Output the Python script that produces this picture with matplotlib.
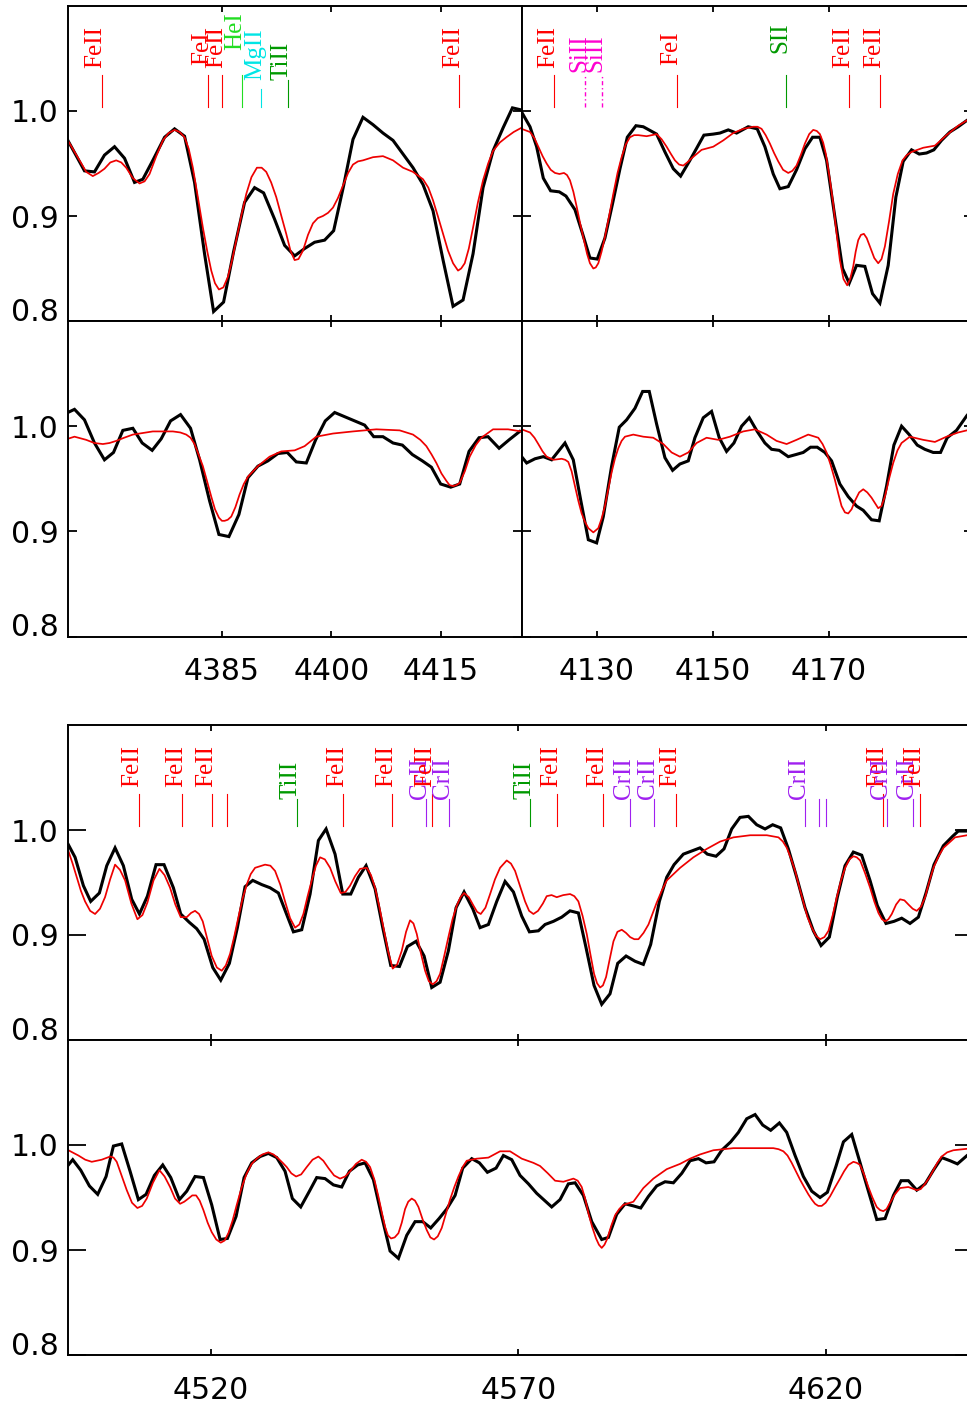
import numpy as np
import matplotlib
matplotlib.use("Agg")
import matplotlib.pyplot as plt

# spectra as (wavelength, normalised flux) pairs; obs = black, fit = red
tl_obs = [(4363.88, 0.972), (4366.16, 0.943), (4367.53, 0.942), (4368.90, 0.958), (4370.28, 0.966),
          (4371.65, 0.955), (4373.02, 0.932), (4374.16, 0.935), (4375.53, 0.953), (4377.14, 0.975),
          (4378.51, 0.983), (4379.88, 0.976), (4381.25, 0.932), (4382.62, 0.864), (4383.86, 0.809),
          (4385.23, 0.818), (4386.60, 0.866), (4388.11, 0.913), (4389.48, 0.927), (4390.72, 0.922),
          (4392.22, 0.897), (4393.60, 0.872), (4394.97, 0.862), (4396.34, 0.869), (4397.71, 0.875),
          (4399.08, 0.877), (4400.32, 0.886), (4401.69, 0.929), (4402.97, 0.973), (4404.34, 0.994),
          (4405.71, 0.987), (4407.08, 0.979), (4408.46, 0.972), (4409.83, 0.959), (4411.20, 0.946),
          (4412.57, 0.930), (4413.94, 0.905), (4415.32, 0.858), (4416.69, 0.814), (4418.06, 0.820),
          (4419.43, 0.864), (4420.80, 0.927), (4422.17, 0.962), (4423.55, 0.984), (4424.83, 1.003),
          (4426.06, 1.001)]
tl_fit = [(4363.88, 0.972), (4365.48, 0.953), (4366.40, 0.942), (4367.30, 0.938), (4368.10, 0.941),
          (4368.90, 0.945), (4369.70, 0.951), (4370.51, 0.953), (4371.20, 0.951), (4371.88, 0.946),
          (4372.80, 0.936), (4373.71, 0.931), (4374.40, 0.933), (4375.08, 0.940), (4376.00, 0.957),
          (4376.91, 0.972), (4377.70, 0.979), (4378.51, 0.982), (4379.20, 0.980), (4379.88, 0.975),
          (4380.45, 0.964), (4381.02, 0.946), (4381.70, 0.918), (4382.39, 0.889), (4383.00, 0.866),
          (4383.54, 0.848), (4384.05, 0.836), (4384.59, 0.830), (4385.20, 0.832), (4385.82, 0.842),
          (4386.40, 0.858), (4386.97, 0.877), (4387.65, 0.900), (4388.34, 0.921), (4389.05, 0.937),
          (4389.80, 0.946), (4390.45, 0.946), (4391.08, 0.942), (4391.75, 0.932), (4392.45, 0.918),
          (4393.15, 0.900), (4393.82, 0.883), (4394.40, 0.867), (4394.97, 0.858), (4395.50, 0.859),
          (4396.11, 0.867), (4396.80, 0.882), (4397.48, 0.893), (4398.15, 0.898), (4398.85, 0.900),
          (4399.55, 0.903), (4400.23, 0.908), (4400.90, 0.917), (4401.60, 0.929), (4402.30, 0.941),
          (4402.97, 0.949), (4403.65, 0.952), (4404.34, 0.953), (4405.71, 0.956), (4407.08, 0.957),
          (4408.46, 0.953), (4409.83, 0.946), (4411.20, 0.942), (4412.57, 0.935), (4413.30, 0.927),
          (4413.94, 0.915), (4414.60, 0.900), (4415.32, 0.883), (4416.00, 0.867), (4416.69, 0.855),
          (4417.37, 0.848), (4417.80, 0.850), (4418.29, 0.855), (4418.85, 0.869), (4419.43, 0.889),
          (4420.10, 0.913), (4420.80, 0.934), (4421.50, 0.950), (4422.17, 0.962), (4423.10, 0.970),
          (4424.00, 0.975), (4425.00, 0.980), (4426.06, 0.984)]

ml_obs = [(4363.88, 1.013), (4364.79, 1.016), (4366.16, 1.006), (4367.53, 0.984), (4368.90, 0.968),
          (4370.14, 0.975), (4371.42, 0.996), (4372.79, 0.998), (4374.07, 0.984), (4375.44, 0.977),
          (4376.68, 0.988), (4377.96, 1.005), (4379.33, 1.011), (4380.70, 0.998), (4381.94, 0.968),
          (4383.31, 0.929), (4384.59, 0.897), (4385.96, 0.895), (4387.33, 0.916), (4388.57, 0.951),
          (4389.94, 0.962), (4391.31, 0.967), (4392.68, 0.974), (4393.96, 0.975), (4395.20, 0.966),
          (4396.57, 0.965), (4397.85, 0.987), (4399.17, 1.005), (4400.46, 1.013), (4401.83, 1.009),
          (4403.20, 1.005), (4404.57, 1.001), (4405.81, 0.990), (4407.08, 0.990), (4408.46, 0.984),
          (4409.74, 0.982), (4411.11, 0.973), (4412.48, 0.967), (4413.72, 0.961), (4414.99, 0.945),
          (4416.37, 0.942), (4417.60, 0.945), (4418.88, 0.976), (4420.25, 0.989), (4421.49, 0.990),
          (4423.00, 0.979), (4424.37, 0.987), (4425.83, 0.995)]
ml_fit = [(4363.88, 0.988), (4364.79, 0.990), (4366.39, 0.987), (4367.50, 0.984), (4368.68, 0.983),
          (4369.60, 0.984), (4370.51, 0.986), (4371.60, 0.989), (4372.79, 0.992), (4375.53, 0.995),
          (4378.28, 0.995), (4379.30, 0.994), (4380.11, 0.992), (4380.70, 0.989), (4381.25, 0.983),
          (4381.80, 0.973), (4382.39, 0.962), (4382.95, 0.948), (4383.54, 0.933), (4384.05, 0.921),
          (4384.59, 0.913), (4385.00, 0.910), (4385.37, 0.910), (4385.80, 0.911), (4386.28, 0.914),
          (4386.85, 0.923), (4387.42, 0.935), (4388.00, 0.945), (4388.57, 0.952), (4389.94, 0.962),
          (4391.54, 0.971), (4393.14, 0.976), (4394.97, 0.977), (4396.34, 0.981), (4397.94, 0.990),
          (4400.23, 0.993), (4402.97, 0.995), (4406.17, 0.997), (4409.37, 0.996), (4411.20, 0.992),
          (4412.20, 0.987), (4413.03, 0.981), (4413.75, 0.973), (4414.40, 0.965), (4415.10, 0.955),
          (4415.77, 0.948), (4416.20, 0.944), (4416.69, 0.943), (4417.15, 0.944), (4417.60, 0.946),
          (4418.30, 0.957), (4418.97, 0.971), (4419.80, 0.982), (4420.57, 0.989), (4422.17, 0.997),
          (4424.23, 0.997), (4426.06, 0.995)]

tr_obs = [(4117.09, 0.999), (4118.53, 0.985), (4119.67, 0.966), (4120.82, 0.936), (4122.08, 0.924),
          (4123.57, 0.923), (4124.72, 0.919), (4126.27, 0.906), (4127.59, 0.883), (4128.85, 0.860),
          (4130.11, 0.859), (4131.43, 0.879), (4132.75, 0.912), (4134.02, 0.945), (4135.28, 0.975),
          (4136.77, 0.986), (4138.03, 0.985), (4140.33, 0.978), (4141.76, 0.961), (4143.20, 0.945),
          (4144.46, 0.938), (4146.06, 0.953), (4148.47, 0.977), (4150.08, 0.978), (4151.23, 0.979),
          (4152.66, 0.982), (4154.10, 0.979), (4156.10, 0.985), (4157.65, 0.983), (4158.97, 0.966),
          (4160.41, 0.940), (4161.55, 0.926), (4162.99, 0.928), (4164.42, 0.944), (4165.86, 0.964),
          (4167.18, 0.975), (4168.44, 0.975), (4169.59, 0.953), (4171.02, 0.899), (4172.34, 0.850),
          (4173.49, 0.836), (4174.75, 0.853), (4176.18, 0.852), (4177.50, 0.826), (4178.77, 0.817),
          (4180.20, 0.853), (4181.52, 0.918), (4182.78, 0.952), (4184.22, 0.963), (4185.54, 0.959),
          (4186.80, 0.960), (4188.06, 0.963), (4189.38, 0.972), (4190.82, 0.980), (4192.25, 0.985),
          (4193.74, 0.991), (4195.00, 0.995)]
tr_fit = [(4117.09, 0.983), (4118.53, 0.980), (4119.30, 0.974), (4119.96, 0.966), (4120.70, 0.957),
          (4121.39, 0.950), (4122.10, 0.944), (4122.83, 0.941), (4123.60, 0.940), (4124.38, 0.941),
          (4124.90, 0.939), (4125.41, 0.934), (4126.00, 0.923), (4126.56, 0.909), (4127.20, 0.892),
          (4127.82, 0.877), (4128.35, 0.864), (4128.85, 0.855), (4129.43, 0.850), (4129.85, 0.851),
          (4130.29, 0.855), (4130.85, 0.866), (4131.43, 0.880), (4132.15, 0.900), (4132.87, 0.921),
          (4133.60, 0.941), (4134.30, 0.956), (4135.00, 0.968), (4135.74, 0.975), (4136.45, 0.977),
          (4137.17, 0.977), (4138.61, 0.976), (4139.50, 0.977), (4140.33, 0.978), (4141.20, 0.973),
          (4142.05, 0.966), (4142.80, 0.959), (4143.48, 0.953), (4144.20, 0.949), (4144.92, 0.948),
          (4145.60, 0.951), (4146.35, 0.955), (4148.07, 0.963), (4150.08, 0.966), (4151.80, 0.972),
          (4153.52, 0.979), (4155.24, 0.983), (4156.96, 0.985), (4157.70, 0.985), (4158.40, 0.983),
          (4159.10, 0.977), (4159.83, 0.969), (4160.55, 0.960), (4161.27, 0.952), (4162.10, 0.944),
          (4162.99, 0.941), (4163.70, 0.943), (4164.42, 0.948), (4165.15, 0.958), (4165.86, 0.969),
          (4166.60, 0.978), (4167.29, 0.982), (4167.90, 0.981), (4168.44, 0.978), (4169.00, 0.970),
          (4169.47, 0.959), (4170.10, 0.937), (4170.73, 0.912), (4171.30, 0.884), (4171.88, 0.858),
          (4172.50, 0.840), (4173.14, 0.834), (4173.65, 0.840), (4174.18, 0.852), (4174.60, 0.866),
          (4175.04, 0.877), (4175.50, 0.882), (4176.01, 0.883), (4176.50, 0.879), (4177.05, 0.871),
          (4177.80, 0.860), (4178.48, 0.855), (4179.05, 0.859), (4179.63, 0.871), (4180.35, 0.895),
          (4181.06, 0.921), (4181.85, 0.940), (4182.67, 0.953), (4183.40, 0.958), (4184.22, 0.961),
          (4186.23, 0.965), (4188.24, 0.967), (4190.24, 0.977), (4192.25, 0.986), (4193.74, 0.991),
          (4195.00, 0.994)]

mr_obs = [(4117.09, 0.971), (4117.95, 0.965), (4119.39, 0.969), (4120.82, 0.971), (4122.25, 0.968),
          (4124.55, 0.984), (4125.98, 0.968), (4127.25, 0.930), (4128.57, 0.892), (4130.00, 0.889),
          (4131.15, 0.914), (4132.58, 0.962), (4133.90, 0.999), (4135.16, 1.006), (4136.60, 1.017),
          (4137.92, 1.033), (4139.06, 1.033), (4140.33, 1.002), (4141.76, 0.970), (4143.08, 0.958),
          (4144.34, 0.964), (4145.78, 0.967), (4146.92, 0.989), (4148.36, 1.008), (4149.79, 1.014),
          (4151.11, 0.989), (4152.37, 0.976), (4153.64, 0.984), (4154.96, 1.000), (4156.28, 1.008),
          (4157.65, 0.995), (4158.97, 0.984), (4160.12, 0.978), (4161.44, 0.977), (4162.99, 0.971),
          (4164.31, 0.973), (4165.57, 0.975), (4166.83, 0.980), (4167.98, 0.980), (4169.30, 0.975),
          (4170.45, 0.967), (4171.88, 0.945), (4173.32, 0.933), (4174.75, 0.924), (4175.90, 0.920),
          (4177.33, 0.911), (4178.65, 0.910), (4179.92, 0.943), (4181.18, 0.982), (4182.50, 1.000),
          (4183.82, 0.992), (4185.20, 0.982), (4186.51, 0.978), (4187.95, 0.975), (4189.21, 0.975),
          (4190.36, 0.989), (4191.96, 0.996), (4193.74, 1.010), (4195.00, 1.018)]
mr_fit = [(4117.09, 0.997), (4118.53, 0.994), (4119.30, 0.989), (4119.96, 0.983), (4120.70, 0.976),
          (4121.39, 0.971), (4122.54, 0.968), (4123.98, 0.969), (4124.60, 0.968), (4125.12, 0.966),
          (4125.70, 0.957), (4126.27, 0.943), (4126.85, 0.929), (4127.42, 0.917), (4128.00, 0.909),
          (4128.57, 0.903), (4129.43, 0.899), (4130.29, 0.903), (4130.85, 0.912), (4131.43, 0.924),
          (4132.00, 0.940), (4132.58, 0.956), (4133.15, 0.969), (4133.73, 0.979), (4134.30, 0.986),
          (4134.88, 0.990), (4136.31, 0.992), (4138.03, 0.990), (4139.75, 0.989), (4141.48, 0.983),
          (4142.91, 0.975), (4144.34, 0.971), (4145.78, 0.975), (4147.21, 0.984), (4148.93, 0.989),
          (4150.94, 0.987), (4152.95, 0.990), (4155.24, 0.995), (4157.25, 0.997), (4159.26, 0.992),
          (4160.98, 0.986), (4162.71, 0.983), (4164.42, 0.987), (4166.43, 0.992), (4168.16, 0.989),
          (4168.90, 0.983), (4169.59, 0.975), (4170.30, 0.963), (4171.02, 0.949), (4171.60, 0.936),
          (4172.17, 0.924), (4172.75, 0.918), (4173.32, 0.917), (4173.90, 0.921), (4174.47, 0.929),
          (4175.20, 0.937), (4175.90, 0.940), (4176.60, 0.937), (4177.33, 0.932), (4178.48, 0.922),
          (4179.05, 0.924), (4179.63, 0.933), (4180.35, 0.950), (4181.06, 0.965), (4181.80, 0.977),
          (4182.50, 0.984), (4183.93, 0.990), (4186.23, 0.987), (4188.24, 0.985), (4190.24, 0.990),
          (4192.25, 0.994), (4193.74, 0.996), (4195.00, 0.997)]

b1_obs = [(4496.86, 0.986), (4497.95, 0.974), (4499.30, 0.947), (4500.49, 0.932), (4501.90, 0.940),
          (4503.10, 0.966), (4504.45, 0.983), (4505.80, 0.966), (4507.16, 0.934), (4508.41, 0.920),
          (4509.71, 0.937), (4511.11, 0.967), (4512.41, 0.967), (4513.93, 0.945), (4515.12, 0.920),
          (4516.53, 0.912), (4517.72, 0.906), (4518.92, 0.896), (4520.33, 0.869), (4521.63, 0.857),
          (4523.03, 0.873), (4524.33, 0.907), (4525.58, 0.946), (4526.83, 0.952), (4528.29, 0.948),
          (4529.64, 0.945), (4531.00, 0.940), (4532.25, 0.921), (4533.44, 0.903), (4534.79, 0.905),
          (4536.15, 0.939), (4537.50, 0.990), (4538.75, 1.001), (4540.21, 0.977), (4541.46, 0.939),
          (4542.76, 0.939), (4544.00, 0.955), (4545.25, 0.966), (4546.71, 0.944), (4547.96, 0.907),
          (4549.26, 0.871), (4550.67, 0.870), (4551.97, 0.889), (4553.38, 0.894), (4554.68, 0.880),
          (4555.92, 0.850), (4557.28, 0.855), (4558.63, 0.885), (4559.88, 0.926), (4561.18, 0.941),
          (4562.59, 0.925), (4563.78, 0.907), (4565.13, 0.910), (4566.49, 0.932), (4567.84, 0.951),
          (4569.20, 0.941), (4570.55, 0.918), (4571.80, 0.903), (4573.26, 0.904), (4574.34, 0.910),
          (4575.70, 0.913), (4577.05, 0.917), (4578.40, 0.923), (4579.76, 0.921), (4581.00, 0.888),
          (4582.30, 0.852), (4583.55, 0.834), (4584.90, 0.844), (4586.15, 0.873), (4587.51, 0.880),
          (4588.97, 0.875), (4590.32, 0.872), (4591.51, 0.891), (4592.92, 0.932), (4594.12, 0.955),
          (4595.31, 0.967), (4596.82, 0.977), (4598.18, 0.980), (4599.53, 0.983), (4600.72, 0.977),
          (4602.13, 0.975), (4603.43, 0.982), (4604.68, 1.001), (4606.03, 1.012), (4607.39, 1.013),
          (4608.74, 1.005), (4610.10, 1.001), (4611.34, 1.005), (4612.64, 1.002), (4613.89, 0.982),
          (4615.24, 0.955), (4616.60, 0.926), (4617.95, 0.904), (4619.20, 0.890), (4620.55, 0.898),
          (4621.85, 0.936), (4623.10, 0.966), (4624.45, 0.979), (4625.81, 0.976), (4627.16, 0.952),
          (4628.35, 0.928), (4629.76, 0.911), (4631.06, 0.913), (4632.31, 0.916), (4633.66, 0.911),
          (4635.02, 0.917), (4636.26, 0.940), (4637.56, 0.967), (4639.08, 0.985), (4640.59, 0.994),
          (4641.51, 0.999), (4643.90, 0.999)]
b1_fit = [(4496.86, 0.980), (4497.55, 0.968), (4498.22, 0.955), (4498.90, 0.942), (4499.57, 0.932),
          (4500.40, 0.923), (4501.20, 0.920), (4502.00, 0.925), (4502.82, 0.936), (4503.65, 0.953),
          (4504.45, 0.967), (4505.25, 0.962), (4506.08, 0.952), (4507.10, 0.930), (4508.08, 0.915),
          (4508.90, 0.919), (4509.71, 0.931), (4510.70, 0.952), (4511.66, 0.963), (4512.50, 0.957),
          (4513.39, 0.945), (4514.25, 0.929), (4515.12, 0.917), (4516.10, 0.917), (4516.80, 0.921),
          (4517.45, 0.923), (4518.10, 0.920), (4518.70, 0.913), (4519.40, 0.897), (4520.16, 0.880),
          (4521.00, 0.869), (4521.79, 0.866), (4522.45, 0.871), (4523.14, 0.882), (4523.80, 0.898),
          (4524.50, 0.917), (4525.15, 0.934), (4525.85, 0.948), (4526.50, 0.958), (4527.21, 0.964),
          (4528.83, 0.967), (4529.70, 0.966), (4530.46, 0.961), (4531.30, 0.948), (4532.08, 0.932),
          (4532.90, 0.916), (4533.71, 0.907), (4534.40, 0.910), (4535.06, 0.920), (4535.75, 0.937),
          (4536.42, 0.952), (4537.10, 0.966), (4537.77, 0.974), (4538.55, 0.972), (4539.40, 0.964),
          (4540.25, 0.951), (4541.13, 0.940), (4541.90, 0.941), (4542.65, 0.947), (4543.45, 0.956),
          (4544.27, 0.963), (4545.36, 0.964), (4546.05, 0.957), (4546.71, 0.945), (4547.40, 0.927),
          (4548.07, 0.907), (4548.85, 0.884), (4549.58, 0.868), (4550.30, 0.872), (4551.05, 0.885),
          (4551.75, 0.903), (4552.40, 0.914), (4552.95, 0.911), (4553.49, 0.901), (4554.15, 0.883),
          (4554.84, 0.866), (4555.45, 0.856), (4556.09, 0.853), (4556.70, 0.856), (4557.28, 0.863),
          (4557.95, 0.880), (4558.63, 0.898), (4559.30, 0.915), (4559.99, 0.928), (4560.60, 0.936),
          (4561.18, 0.940), (4561.95, 0.936), (4562.70, 0.928), (4563.30, 0.922), (4563.89, 0.920),
          (4564.65, 0.926), (4565.41, 0.939), (4566.20, 0.953), (4567.03, 0.964), (4568.11, 0.971),
          (4568.80, 0.968), (4569.47, 0.961), (4570.30, 0.946), (4571.09, 0.932), (4571.75, 0.923),
          (4572.45, 0.920), (4573.20, 0.923), (4573.99, 0.930), (4574.61, 0.937), (4575.40, 0.938),
          (4576.24, 0.936), (4577.30, 0.938), (4578.41, 0.939), (4579.10, 0.937), (4579.76, 0.932),
          (4580.45, 0.918), (4581.12, 0.901), (4581.70, 0.882), (4582.31, 0.863), (4582.80, 0.854),
          (4583.29, 0.850), (4583.75, 0.852), (4584.26, 0.860), (4584.85, 0.877), (4585.46, 0.894),
          (4586.10, 0.903), (4586.81, 0.905), (4587.50, 0.902), (4588.17, 0.898), (4588.85, 0.896),
          (4589.52, 0.896), (4590.35, 0.902), (4591.15, 0.910), (4591.80, 0.920), (4592.50, 0.931),
          (4593.30, 0.942), (4594.13, 0.952), (4596.30, 0.964), (4598.46, 0.974), (4600.63, 0.982),
          (4602.80, 0.989), (4604.97, 0.993), (4607.68, 0.995), (4610.39, 0.995), (4612.28, 0.993),
          (4613.00, 0.989), (4613.64, 0.983), (4614.30, 0.973), (4614.99, 0.961), (4615.65, 0.946),
          (4616.35, 0.931), (4617.00, 0.917), (4617.70, 0.907), (4618.40, 0.899), (4619.06, 0.896),
          (4619.75, 0.898), (4620.41, 0.904), (4621.10, 0.919), (4621.76, 0.936), (4622.45, 0.952),
          (4623.12, 0.964), (4623.80, 0.972), (4624.47, 0.975), (4625.00, 0.974), (4625.56, 0.971),
          (4626.35, 0.959), (4627.18, 0.945), (4627.85, 0.932), (4628.53, 0.921), (4629.10, 0.915),
          (4629.62, 0.913), (4630.15, 0.915), (4630.70, 0.920), (4631.40, 0.929), (4632.05, 0.934),
          (4632.75, 0.933), (4633.41, 0.929), (4634.10, 0.925), (4634.76, 0.923), (4635.45, 0.927),
          (4636.12, 0.936), (4636.80, 0.951), (4637.47, 0.964), (4638.30, 0.975), (4639.10, 0.983),
          (4640.99, 0.993), (4643.90, 0.996)]

b2_obs = [(4496.86, 0.981), (4497.57, 0.986), (4498.87, 0.976), (4500.28, 0.961), (4501.63, 0.953),
          (4502.99, 0.970), (4504.18, 0.999), (4505.53, 1.001), (4506.89, 0.975), (4508.24, 0.948),
          (4509.49, 0.953), (4510.84, 0.971), (4512.20, 0.981), (4513.50, 0.969), (4514.91, 0.948),
          (4516.10, 0.956), (4517.45, 0.970), (4518.81, 0.969), (4520.16, 0.943), (4521.52, 0.910),
          (4522.71, 0.911), (4524.12, 0.932), (4525.42, 0.969), (4526.66, 0.983), (4528.02, 0.989),
          (4529.37, 0.992), (4530.73, 0.988), (4532.08, 0.975), (4533.27, 0.949), (4534.63, 0.941),
          (4536.04, 0.956), (4537.23, 0.969), (4538.58, 0.968), (4539.94, 0.962), (4541.29, 0.960),
          (4542.54, 0.975), (4543.89, 0.981), (4545.09, 0.983), (4546.44, 0.967), (4547.80, 0.932),
          (4549.15, 0.899), (4550.51, 0.892), (4551.86, 0.914), (4553.21, 0.927), (4554.46, 0.927),
          (4555.76, 0.921), (4557.12, 0.930), (4558.36, 0.939), (4559.72, 0.952), (4560.96, 0.978),
          (4562.43, 0.987), (4563.67, 0.983), (4564.97, 0.974), (4566.38, 0.978), (4567.57, 0.990),
          (4568.93, 0.986), (4570.28, 0.971), (4571.64, 0.963), (4572.98, 0.954), (4575.42, 0.941),
          (4576.78, 0.948), (4578.13, 0.963), (4579.22, 0.964), (4580.57, 0.952), (4581.93, 0.927),
          (4583.55, 0.910), (4584.64, 0.912), (4585.99, 0.934), (4587.35, 0.944), (4588.70, 0.942),
          (4589.89, 0.940), (4591.14, 0.951), (4592.49, 0.961), (4593.85, 0.965), (4595.20, 0.964),
          (4596.56, 0.973), (4597.91, 0.985), (4599.27, 0.987), (4600.51, 0.983), (4601.81, 0.984),
          (4603.06, 0.995), (4604.52, 1.003), (4605.77, 1.012), (4607.12, 1.025), (4608.48, 1.029),
          (4609.72, 1.019), (4611.02, 1.014), (4612.43, 1.021), (4613.62, 1.012), (4614.98, 0.990),
          (4616.33, 0.970), (4617.69, 0.956), (4619.04, 0.950), (4620.23, 0.955), (4621.64, 0.980),
          (4622.84, 1.003), (4624.19, 1.010), (4625.55, 0.983), (4626.90, 0.956), (4628.26, 0.929),
          (4629.61, 0.930), (4630.97, 0.952), (4632.21, 0.966), (4633.40, 0.966), (4634.76, 0.957),
          (4636.12, 0.963), (4637.47, 0.976), (4638.83, 0.988), (4640.18, 0.985), (4641.37, 0.982),
          (4642.94, 0.990), (4643.90, 0.994)]
b2_fit = [(4496.86, 0.995), (4498.49, 0.990), (4499.60, 0.986), (4500.66, 0.984), (4502.28, 0.986),
          (4503.64, 0.989), (4504.20, 0.988), (4504.72, 0.984), (4505.50, 0.971), (4506.35, 0.957),
          (4507.20, 0.945), (4508.08, 0.940), (4508.85, 0.942), (4509.60, 0.949), (4510.60, 0.964),
          (4511.66, 0.976), (4512.50, 0.970), (4513.39, 0.960), (4514.20, 0.949), (4515.02, 0.944),
          (4515.70, 0.946), (4516.37, 0.949), (4517.00, 0.952), (4517.62, 0.952), (4518.20, 0.947),
          (4518.81, 0.938), (4519.50, 0.926), (4520.16, 0.917), (4520.90, 0.910), (4521.63, 0.907),
          (4522.25, 0.909), (4522.87, 0.916), (4523.55, 0.928), (4524.23, 0.943), (4525.00, 0.959),
          (4525.85, 0.973), (4526.65, 0.982), (4527.48, 0.987), (4528.40, 0.991), (4529.37, 0.993),
          (4530.20, 0.991), (4531.00, 0.987), (4531.70, 0.983), (4532.35, 0.979), (4533.10, 0.973),
          (4533.87, 0.970), (4534.70, 0.972), (4535.60, 0.979), (4536.55, 0.986), (4537.50, 0.989),
          (4538.30, 0.985), (4539.13, 0.978), (4540.05, 0.971), (4541.02, 0.968), (4541.85, 0.970),
          (4542.65, 0.975), (4543.60, 0.982), (4544.54, 0.986), (4545.25, 0.984), (4545.90, 0.979),
          (4546.60, 0.967), (4547.25, 0.951), (4547.80, 0.936), (4548.34, 0.922), (4548.80, 0.914),
          (4549.31, 0.911), (4549.90, 0.912), (4550.51, 0.916), (4551.05, 0.926), (4551.59, 0.939),
          (4552.10, 0.946), (4552.67, 0.949), (4553.20, 0.947), (4553.76, 0.941), (4554.45, 0.929),
          (4555.11, 0.919), (4555.70, 0.912), (4556.30, 0.910), (4556.90, 0.913), (4557.55, 0.921),
          (4558.20, 0.934), (4558.90, 0.948), (4559.60, 0.960), (4560.26, 0.970), (4560.95, 0.979),
          (4561.61, 0.985), (4563.24, 0.987), (4565.13, 0.988), (4567.03, 0.994), (4568.65, 0.994),
          (4570.55, 0.987), (4572.45, 0.983), (4573.53, 0.980), (4574.80, 0.973), (4575.97, 0.966),
          (4577.32, 0.965), (4578.95, 0.968), (4579.65, 0.966), (4580.30, 0.960), (4580.85, 0.949),
          (4581.39, 0.935), (4582.00, 0.922), (4582.63, 0.911), (4583.10, 0.905), (4583.55, 0.902),
          (4584.00, 0.905), (4584.47, 0.911), (4585.10, 0.923), (4585.72, 0.933), (4586.40, 0.939),
          (4587.07, 0.943), (4588.70, 0.946), (4590.32, 0.959), (4591.95, 0.968), (4594.12, 0.977),
          (4596.28, 0.982), (4597.91, 0.987), (4599.53, 0.991), (4601.70, 0.995), (4604.95, 0.997),
          (4608.20, 0.997), (4611.45, 0.997), (4612.30, 0.996), (4613.08, 0.994), (4613.75, 0.990),
          (4614.43, 0.983), (4615.10, 0.975), (4615.79, 0.967), (4616.45, 0.960), (4617.14, 0.953),
          (4617.70, 0.948), (4618.23, 0.944), (4618.75, 0.942), (4619.31, 0.942), (4619.95, 0.945),
          (4620.66, 0.951), (4621.50, 0.960), (4622.29, 0.968), (4622.95, 0.975), (4623.64, 0.981),
          (4624.46, 0.984), (4625.00, 0.983), (4625.54, 0.981), (4626.20, 0.972), (4626.89, 0.960),
          (4627.55, 0.950), (4628.25, 0.941), (4628.80, 0.938), (4629.33, 0.937), (4629.85, 0.939),
          (4630.41, 0.945), (4631.20, 0.953), (4632.04, 0.959), (4633.39, 0.960), (4634.75, 0.957),
          (4635.40, 0.958), (4636.10, 0.963), (4636.80, 0.969), (4637.45, 0.976), (4638.10, 0.983),
          (4638.81, 0.989), (4639.70, 0.993), (4640.71, 0.995), (4643.90, 0.997)]

# line identifications: wavelength, ion, whether the ion name is printed
left_lines = [(4368.5, "FeII", True), (4383.1, "FeI", True), (4385.0, "FeII", True),
              (4387.7, "HeI", True), (4390.4, "MgII", True), (4394.0, "TiII", True),
              (4417.5, "FeII", True)]
right_lines = [(4122.64, "FeII", True), (4128.07, "SiII", True), (4130.88, "SiII", True),
               (4143.87, "FeI", True), (4162.67, "SII", True), (4173.46, "FeII", True),
               (4178.86, "FeII", True)]
bottom_lines = [(4508.28, "FeII", True), (4515.34, "FeII", True), (4520.22, "FeII", True),
                (4522.63, "FeII", False), (4533.97, "TiII", True), (4541.52, "FeII", True),
                (4549.47, "FeII", True), (4554.99, "CrII", True), (4555.89, "FeII", True),
                (4558.66, "CrII", True), (4571.97, "TiII", True), (4576.34, "FeII", True),
                (4583.84, "FeII", True), (4588.20, "CrII", True), (4592.05, "CrII", True),
                (4595.68, "FeII", True), (4616.63, "CrII", True), (4618.80, "CrII", False),
                (4620.00, "CrII", False), (4629.34, "FeII", True), (4630.00, "CrII", True),
                (4634.07, "CrII", True), (4635.32, "FeII", True)]

ion_color = {"FeII": "#ff0000", "FeI": "#ff0000", "HeI": "#22dd22", "MgII": "#00e5e5",
             "TiII": "#009900", "SII": "#009900", "SiII": "#ff00d0", "CrII": "#a020f0"}
# distances below the top frame (px of a 315 px panel): label start, line top
label_start = {"FeII": 62, "FeI": 59, "HeI": 44, "MgII": 74, "TiII": 74, "SII": 47,
               "SiII": 66, "CrII": 74}
line_top = {"FeII": 69, "FeI": 69, "HeI": 69, "MgII": 83, "TiII": 74, "SII": 69,
            "SiII": 69, "CrII": 74}
LINE_BOTTOM = 101
PANEL_PX = 315.0

W, H = 967, 1404
plt.rcParams["font.family"] = "DejaVu Sans"

fig = plt.figure(figsize=(W / 100, H / 100), dpi=100)


def px_axes(x0, x1, y0, y1):
    return fig.add_axes([x0 / W, 1 - y1 / H, (x1 - x0) / W, (y1 - y0) / H])


def draw_spectrum(ax, obs, fit):
    o = np.array(obs)
    f = np.array(fit)
    ax.plot(o[:, 0], o[:, 1], color="black", lw=2.2, solid_joinstyle="miter")
    ax.plot(f[:, 0], f[:, 1], color="#ee0000", lw=1.25, solid_joinstyle="round")


def mark_lines(ax, lines):
    tr = ax.get_xaxis_transform()
    for wave, ion, named in lines:
        c = ion_color[ion]
        ls = (0, (3, 2, 1, 2)) if ion == "SiII" else "-"
        ax.plot([wave, wave], [1 - LINE_BOTTOM / PANEL_PX, 1 - line_top[ion] / PANEL_PX],
                color=c, lw=1.0 if ion == "SiII" else 0.8, ls=ls, transform=tr)
        if named:
            ax.text(wave, 1 - label_start[ion] / PANEL_PX, ion, transform=tr,
                    rotation=90, rotation_mode="anchor", ha="left", va="baseline",
                    color=c, fontsize=18, family="Liberation Serif")


def style(ax, xlim, xticks, ylen, show_x, show_y):
    ax.set_xlim(*xlim)
    ax.set_ylim(0.8, 1.1)
    ax.set_xticks(xticks)
    ax.set_yticks([0.8, 0.9, 1.0])
    ax.set_yticklabels(["0.8", "0.9", "1.0"])
    ax.tick_params(axis="both", direction="in", top=True, right=True, width=1.3,
                   labelsize=21.5, colors="black")
    ax.tick_params(axis="x", length=4.5, pad=15, labelbottom=show_x)
    ax.tick_params(axis="y", length=ylen, pad=7, labelleft=show_y)
    if show_y:
        ax.get_yticklabels()[0].set_verticalalignment("baseline")
    for s in ax.spines.values():
        s.set_linewidth(1.4)


left_x = (4363.9, 4426.1)
right_x = (4117.1, 4194.8)
bottom_x = (4496.8, 4643.9)

tl = px_axes(68, 521.7, 6, 321)
tr = px_axes(521.7, 973, 6, 321)
ml = px_axes(68, 521.7, 321, 636.5)
mr = px_axes(521.7, 973, 321, 636.5)
b1 = px_axes(68, 973, 725, 1040)
b2 = px_axes(68, 973, 1040, 1355)

draw_spectrum(tl, tl_obs, tl_fit)
draw_spectrum(ml, ml_obs, ml_fit)
draw_spectrum(tr, tr_obs, tr_fit)
draw_spectrum(mr, mr_obs, mr_fit)
draw_spectrum(b1, b1_obs, b1_fit)
draw_spectrum(b2, b2_obs, b2_fit)

mark_lines(tl, left_lines)
mark_lines(tr, right_lines)
mark_lines(b1, bottom_lines)

style(tl, left_x, [4385, 4400, 4415], 6.5, False, True)
style(ml, left_x, [4385, 4400, 4415], 6.5, True, True)
style(tr, right_x, [4130, 4150, 4170], 6.5, False, False)
style(mr, right_x, [4130, 4150, 4170], 6.5, True, False)
style(b1, bottom_x, [4520, 4570, 4620], 13, False, True)
style(b2, bottom_x, [4520, 4570, 4620], 13, True, True)

fig.savefig("out.png", dpi=100)
plt.close(fig)
